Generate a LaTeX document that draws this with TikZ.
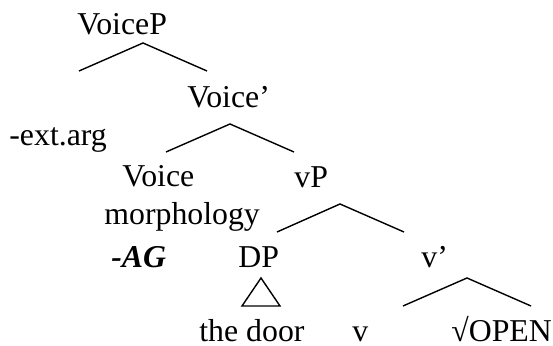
\documentclass[tikz,border=0pt]{standalone}
\usepackage{fontspec}
\setmainfont{Liberation Serif}
\begin{document}
\begin{tikzpicture}[x=0.5pt,y=-0.5pt,
  lbl/.style={inner sep=0pt,anchor=base west,font=\fontsize{15.9}{18}\selectfont},
  branch/.style={line width=0.7pt}]
\useasboundingbox (0,0) rectangle (553,346);
% labels
\node[lbl] (voicep) at (77,35) {VoiceP};
\node[lbl] (voicebar) at (187,108) {Voice’};
\node[lbl] (extarg) at (9,146) {-ext.arg};
\node[lbl] (voice) at (122,187) {Voice};
\node[lbl] (vp) at (294,188) {vP};
\node[lbl] (morph) at (104,225) {morphology};
\node[lbl] (ag) at (111,268) {\textbf{\textit{-AG}}};
\node[lbl] (dp) at (238,268) {DP};
\node[lbl] (vbar) at (421,268) {v’};
\node[lbl] (door) at (199,342) {the door};
\node[lbl] (v) at (352,342) {v};
\node[lbl] (root) at (451,342) {√OPEN};
% branches
\coordinate (a1) at (143,43);
\draw[branch] (79,71) -- (a1) -- (207,71);
\coordinate (a2) at (230,124);
\draw[branch] (166,152) -- (a2) -- (294,152);
\coordinate (a3) at (340,204);
\draw[branch] (277,232) -- (a3) -- (404,232);
\coordinate (a4) at (467,278);
\draw[branch] (403,306) -- (a4) -- (531,306);
% triangle under DP
\coordinate (t1) at (261,278);
\draw[branch,line join=miter] (t1) -- (280,306) -- (242,306) -- cycle;
\end{tikzpicture}
\end{document}
